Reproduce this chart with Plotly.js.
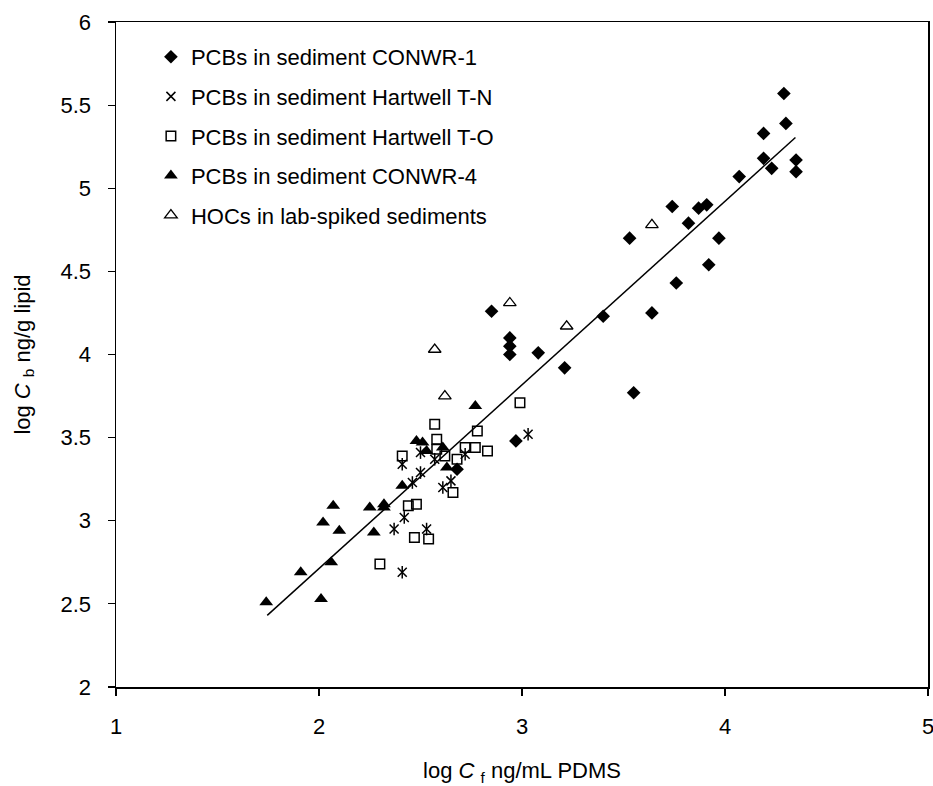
<!DOCTYPE html>
<html>
<head>
<meta charset="utf-8">
<script src="https://cdn.plot.ly/plotly-3.0.1.min.js"></script>
<style>html,body{margin:0;padding:0;background:#fff;}#chart{width:933px;height:786px;}</style>
</head>
<body>
<div id="chart"></div>
<script>
// PCBs in sediment CONWR-1
const conwr1X = [4.29,4.30,4.19,4.19,4.23,4.35,4.35,4.07,3.74,3.82,3.87,3.91,3.97,3.92,3.53,3.76,3.64,3.40,3.55,3.21,3.08,2.85,2.94,2.94,2.94,2.97,2.68];
const conwr1Y = [5.57,5.39,5.33,5.18,5.12,5.17,5.10,5.07,4.89,4.79,4.88,4.90,4.70,4.54,4.70,4.43,4.25,4.23,3.77,3.92,4.01,4.26,4.10,4.05,4.00,3.48,3.31];
// PCBs in sediment Hartwell T-N
const tnX = [2.41,2.37,2.42,2.53,2.41,2.46,2.50,2.50,2.61,2.65,2.57,2.72,3.03];
const tnY = [2.69,2.95,3.02,2.95,3.34,3.23,3.29,3.41,3.20,3.24,3.37,3.40,3.52];
// PCBs in sediment Hartwell T-O
const toX = [2.30,2.47,2.54,2.44,2.48,2.41,2.57,2.58,2.58,2.62,2.66,2.68,2.72,2.77,2.78,2.83,2.99];
const toY = [2.74,2.90,2.89,3.09,3.10,3.39,3.58,3.49,3.43,3.39,3.17,3.37,3.44,3.44,3.54,3.42,3.71];
// PCBs in sediment CONWR-4
const conwr4X = [1.74,1.91,2.01,2.06,2.02,2.07,2.10,2.25,2.27,2.32,2.32,2.41,2.48,2.51,2.53,2.61,2.63,2.77];
const conwr4Y = [2.51,2.69,2.53,2.75,2.99,3.09,2.94,3.08,2.93,3.10,3.08,3.21,3.48,3.47,3.42,3.44,3.32,3.69];
// HOCs in lab-spiked sediments
const hocX = [2.57,2.62,2.94,3.22,3.64];
const hocY = [4.03,3.75,4.31,4.17,4.78];
// regression line end points
const fitX = [1.745, 4.347];
const fitY = [2.431, 5.305];

const seriesNames = ["PCBs in sediment CONWR-1","PCBs in sediment Hartwell T-N","PCBs in sediment Hartwell T-O","PCBs in sediment CONWR-4","HOCs in lab-spiked sediments"];
const xTicks = [1,2,3,4,5];
const yTicks = [2,2.5,3,3.5,4,4.5,5,5.5,6];

const FONT = "Liberation Sans, Arial, sans-serif";
const traces = [
  {x: conwr1X, y: conwr1Y, type: "scatter", mode: "markers", name: seriesNames[0], legendgroup: "g1",
   marker: {symbol: "diamond", size: 10.5, color: "#000"}},
  {x: tnX, y: tnY, type: "scatter", mode: "markers", name: seriesNames[1], legendgroup: "g2",
   marker: {symbol: "x-thin-open", size: 9, color: "#000", line: {color: "#000", width: 1.5}}},
  {x: tnX, y: tnY, type: "scatter", mode: "markers", name: seriesNames[1], legendgroup: "g2", showlegend: false,
   marker: {symbol: "line-ns-open", size: 9, color: "#000", line: {color: "#000", width: 1.5}}},
  {x: toX, y: toY, type: "scatter", mode: "markers", name: seriesNames[2], legendgroup: "g3",
   marker: {symbol: "square-open", size: 9.5, color: "#000", line: {color: "#000", width: 1.5}}},
  {x: conwr4X, y: conwr4Y, type: "scatter", mode: "markers", name: seriesNames[3], legendgroup: "g4",
   marker: {symbol: "triangle-up", size: 12, color: "#000"}},
  {x: hocX, y: hocY, type: "scatter", mode: "markers", name: seriesNames[4], legendgroup: "g5",
   marker: {symbol: "triangle-up-open", size: 11, color: "#000", line: {color: "#000", width: 1.3}}},
  {x: fitX, y: fitY, type: "scatter", mode: "lines", showlegend: false, hoverinfo: "skip",
   line: {color: "#000", width: 1.5}}
];

const layout = {
  width: 933, height: 786,
  margin: {l: 116, r: 5, t: 22, b: 99},
  paper_bgcolor: "#fff", plot_bgcolor: "#fff",
  font: {family: FONT, color: "#000", size: 21},
  showlegend: true,
  legend: {x: 0.043, y: 0.979, xanchor: "left", yanchor: "top", bgcolor: "rgba(0,0,0,0)",
           font: {family: FONT, size: 22, color: "#000"}, traceorder: "grouped", tracegroupgap: 8},
  xaxis: {range: [1,5], tickmode: "array", tickvals: xTicks, ticktext: xTicks.map(String),
          showgrid: false, zeroline: false, showline: true, linecolor: "#000", linewidth: 1.5, mirror: true,
          ticks: "outside", ticklen: 7, tickwidth: 1.2, tickcolor: "#000", ticklabelstandoff: 12,
          ticklabeloverflow: "allow",
          tickfont: {family: FONT, size: 22, color: "#000"},
          title: {text: "log <i>C</i> <sub>f</sub> ng/mL PDMS", font: {family: FONT, size: 22, color: "#000"}, standoff: 26}},
  yaxis: {range: [2,6], tickmode: "array", tickvals: yTicks, ticktext: yTicks.map(String),
          showgrid: false, zeroline: false, showline: true, linecolor: "#000", linewidth: 1.5, mirror: true,
          ticks: "outside", ticklen: 7, tickwidth: 1.2, tickcolor: "#000", ticklabelstandoff: 12,
          ticklabeloverflow: "allow",
          tickfont: {family: FONT, size: 22, color: "#000"},
          title: {text: "log <i>C</i> <sub>b</sub> ng/g lipid", font: {family: FONT, size: 22, color: "#000"}, standoff: 24}}
};

Plotly.newPlot("chart", traces, layout, {displayModeBar: false, staticPlot: true});
</script>
</body>
</html>
